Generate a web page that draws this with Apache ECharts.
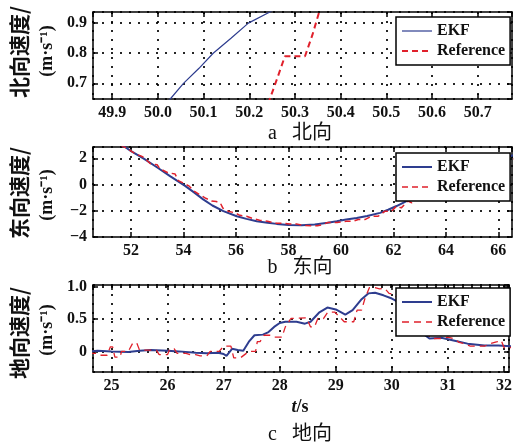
<!DOCTYPE html>
<html lang="zh">
<head>
<meta charset="UTF-8">
<title>EKF 速度对比</title>
<script src="https://cdn.jsdelivr.net/npm/echarts@6/dist/echarts.min.js"></script>
<style>
html, body { margin: 0; padding: 0; background: #fff; }
#chart { width: 515px; height: 448px; }
</style>
</head>
<body>
<div id="chart"></div>
<script>
// panel a: north velocity, x = t (s), y = m/s
const northEkf = [[50.0, 0.60], [50.027, 0.648], [50.056, 0.70], [50.09, 0.75], [50.121, 0.80], [50.16, 0.85], [50.198, 0.90], [50.245, 0.937], [50.27, 0.96]];
const northRef = [[50.235, 0.60], [50.245, 0.648], [50.262, 0.72], [50.278, 0.79], [50.322, 0.79], [50.338, 0.86], [50.353, 0.937], [50.36, 0.97]];

// panel b: east velocity
const eastEkf = [[51.6, 3.05], [51.77, 2.86], [52.0, 2.55], [52.5, 1.95], [53.0, 1.3], [53.5, 0.62], [54.06, -0.1], [54.4, -0.6], [54.75, -1.13],
  [55.1, -1.6], [55.52, -2.03], [56.03, -2.42], [56.4, -2.62], [56.79, -2.8], [57.2, -2.92], [57.55, -3.0], [58.0, -3.08], [58.5, -3.1],
  [59.0, -3.04], [59.5, -2.92], [59.84, -2.8], [60.2, -2.67], [60.6, -2.55], [61.0, -2.4], [61.49, -2.16], [61.8, -1.92], [62.12, -1.64],
  [62.5, -1.27], [62.88, -0.87], [63.5, -0.3], [64.0, 0.2], [64.5, 0.68], [65.0, 1.1], [65.5, 1.5], [66.0, 1.88], [66.6, 2.25]];
const eastRef = [[51.6, 3.0], [51.85, 2.75], [52.08, 2.45], [52.2, 2.3], [52.35, 2.2], [52.5, 2.05], [52.6, 1.85], [52.73, 1.6], [53.0, 1.5],
  [53.1, 1.2], [53.17, 1.05], [53.42, 0.88], [53.55, 0.85], [53.68, 0.8], [53.8, 0.3], [54.0, 0.1], [54.2, -0.1], [54.3, -0.3], [54.4, -0.5],
  [54.6, -0.75], [54.7, -0.85], [54.8, -1.0], [55.07, -1.25], [55.25, -1.3], [55.4, -1.4], [55.5, -1.8], [55.7, -2.03], [55.96, -2.16],
  [56.15, -2.35], [56.4, -2.42], [56.65, -2.6], [56.9, -2.72], [57.2, -2.8], [57.4, -2.9], [57.55, -2.95], [57.8, -2.96], [58.06, -3.0],
  [58.3, -3.0], [58.56, -3.12], [59.1, -3.15], [59.3, -3.05], [59.5, -2.9], [59.85, -2.9], [60.2, -2.8], [60.47, -2.8], [60.66, -2.67],
  [60.91, -2.67], [61.17, -2.42], [61.42, -2.42], [61.68, -2.03], [61.93, -2.03], [62.12, -1.64], [62.3, -1.78], [62.55, -1.26],
  [62.7, -1.39], [63.0, -0.87], [63.14, -1.0], [63.5, -0.55], [64.0, -0.05], [64.5, 0.45], [65.0, 0.9], [65.5, 1.35], [66.0, 1.7],
  [66.36, 2.08], [66.6, 1.96]];

// panel c: down velocity
const downEkf = [[24.6, 0.0], [24.75, 0.01], [25.0, 0.0], [25.3, -0.01], [25.5, 0.01], [25.7, 0.02], [26.0, 0.01], [26.2, 0.0], [26.5, -0.02],
  [26.7, -0.03], [26.9, -0.02], [27.0, -0.04], [27.05, -0.07], [27.15, 0.04], [27.25, 0.02], [27.35, 0.01], [27.45, 0.15], [27.55, 0.25],
  [27.7, 0.26], [27.8, 0.3], [27.9, 0.38], [28.0, 0.44], [28.1, 0.46], [28.3, 0.46], [28.45, 0.43], [28.55, 0.46], [28.7, 0.6],
  [28.85, 0.68], [29.0, 0.65], [29.17, 0.57], [29.3, 0.64], [29.45, 0.8], [29.58, 0.9], [29.7, 0.91], [29.85, 0.87], [30.0, 0.82],
  [30.15, 0.75], [30.3, 0.6], [30.45, 0.4], [30.55, 0.28], [30.67, 0.2], [30.88, 0.21], [31.1, 0.17], [31.35, 0.12], [31.65, 0.09],
  [31.9, 0.09], [32.15, 0.08]];
const downRef = [[24.6, -0.03], [24.73, -0.03], [24.78, -0.06], [24.92, -0.06], [24.98, 0.07], [25.02, 0.07], [25.06, -0.09], [25.15, -0.09],
  [25.18, 0.0], [25.3, 0.0], [25.38, 0.13], [25.45, 0.13], [25.5, 0.02], [25.8, 0.02], [25.85, -0.05], [26.0, -0.05], [26.04, 0.04],
  [26.12, 0.04], [26.17, -0.03], [26.33, -0.03], [26.4, -0.05], [26.5, -0.05], [26.58, -0.07], [26.7, -0.07], [26.76, 0.0], [26.92, 0.0],
  [27.0, 0.08], [27.13, 0.08], [27.18, -0.1], [27.3, -0.1], [27.45, 0.0], [27.57, 0.0], [27.6, 0.15], [27.65, 0.15], [27.72, 0.25],
  [27.84, 0.25], [27.9, 0.22], [28.04, 0.22], [28.1, 0.38], [28.2, 0.51], [28.48, 0.52], [28.55, 0.38], [28.62, 0.38], [28.68, 0.51],
  [28.78, 0.51], [28.86, 0.61], [28.98, 0.61], [29.05, 0.55], [29.15, 0.46], [29.32, 0.46], [29.38, 0.64], [29.46, 0.64], [29.52, 0.82],
  [29.6, 0.99], [29.7, 0.99], [29.78, 0.97], [29.87, 0.98], [29.95, 0.9], [30.05, 0.88], [30.3, 0.6], [30.45, 0.4], [30.52, 0.3],
  [30.6, 0.3], [30.7, 0.2], [30.88, 0.2], [31.0, 0.22], [31.1, 0.2], [31.2, 0.14], [31.3, 0.12], [31.4, 0.08], [31.65, 0.08],
  [31.75, 0.12], [31.88, 0.15], [31.95, 0.17], [32.0, 0.06], [32.15, 0.06]];

// axis ranges and tick steps
const xRanges = [[49.858, 50.775], [50.55, 66.52], [24.67, 32.09]];
const yRanges = [[0.648, 0.937], [-4, 2.86], [-0.32, 1.03]];
const xSteps = [0.1, 2, 1];
const ySteps = [0.1, 2, 0.5];
const yLabels = ['北向速度/', '东向速度/', '地向速度/'];
const captions = ['a   北向', 'b   东向', 'c   地向'];

const BLUE = '#2e3d8f';
const RED = '#e0202b';
const serif = 'Liberation Serif, Times New Roman, serif';
const cjk = 'Liberation Serif, Noto Sans CJK SC, sans-serif';

const grids = [
  { left: 93, right: 3, top: 12, height: 87 },
  { left: 93, right: 3, top: 147, height: 90 },
  { left: 93, right: 3, top: 285, height: 87 }
];

const tickFont = { fontFamily: serif, fontWeight: 'bold', fontSize: 16, color: '#111' };
const frameLine = { onZero: false, lineStyle: { color: '#000', width: 1.5 } };
const innerTick = { inside: true, length: 5, lineStyle: { color: '#000', width: 1.5 } };
const dotted = { show: true, lineStyle: { color: '#000', type: [2, 7], width: 2, opacity: 0.85 } };

const fmtX = [v => v.toFixed(1), v => String(Math.round(v)), v => String(Math.round(v))];
const fmtY = [
  v => v.toFixed(1),
  v => (v < 0 ? '−' : '') + Math.abs(Math.round(v)),
  v => (Math.abs(v) < 1e-9 ? '0' : v.toFixed(1))
];

const xAxis = [];
const yAxis = [];
for (let g = 0; g < 3; g++) {
  const common = { type: 'value', gridIndex: g };
  xAxis.push({
    ...common, position: 'bottom', min: xRanges[g][0], max: xRanges[g][1],
    minInterval: xSteps[g], maxInterval: xSteps[g],
    axisLine: frameLine, axisTick: innerTick, splitLine: dotted,
    axisLabel: { ...tickFont, margin: 6, formatter: fmtX[g], showMinLabel: false, showMaxLabel: false, hideOverlap: false }
  });
  xAxis.push({
    ...common, position: 'top', min: xRanges[g][0], max: xRanges[g][1],
    minInterval: xSteps[g], maxInterval: xSteps[g],
    axisLine: frameLine, axisTick: innerTick, splitLine: { show: false }, axisLabel: { show: false }
  });
  yAxis.push({
    ...common, position: 'left', min: yRanges[g][0], max: yRanges[g][1],
    minInterval: ySteps[g], maxInterval: ySteps[g],
    axisLine: frameLine, axisTick: innerTick, splitLine: dotted,
    axisLabel: { ...tickFont, margin: 6, formatter: fmtY[g], showMinLabel: g === 1, showMaxLabel: false, hideOverlap: false }
  });
  yAxis.push({
    ...common, position: 'right', min: yRanges[g][0], max: yRanges[g][1],
    minInterval: ySteps[g], maxInterval: ySteps[g],
    axisLine: frameLine, axisTick: innerTick, splitLine: { show: false }, axisLabel: { show: false }
  });
}

function lineSeries(name, g, data, color, width, dash) {
  return {
    name: name, type: 'line', xAxisIndex: g * 2, yAxisIndex: g * 2, data: data,
    symbol: 'none', smooth: false, clip: true,
    lineStyle: { color: color, width: width, type: dash || 'solid' },
    itemStyle: { color: color }
  };
}

const series = [
  lineSeries('EKF', 0, northEkf, BLUE, 1.2),
  lineSeries('Reference', 0, northRef, RED, 2, [6, 4]),
  lineSeries('EKF', 1, eastEkf, BLUE, 2),
  lineSeries('Reference', 1, eastRef, RED, 1.5, [6, 4]),
  lineSeries('EKF', 2, downEkf, BLUE, 2),
  lineSeries('Reference', 2, downRef, RED, 1.3, [7, 5])
];

const legendTops = [17, 153, 288];
const legendStyles = [
  [{ color: BLUE, width: 1.2, type: 'solid' }, { color: RED, width: 2, type: [6, 4] }],
  [{ color: BLUE, width: 2, type: 'solid' }, { color: RED, width: 1.3, type: [6, 4] }],
  [{ color: BLUE, width: 2, type: 'solid' }, { color: RED, width: 1.3, type: [7, 5] }]
];
const legend = legendTops.map((top, i) => ({
  left: 396, top: top, orient: 'vertical', selectedMode: false,
  padding: [6, 5, 6, 5], itemGap: 4, itemWidth: 30, itemHeight: 14,
  backgroundColor: '#fff', borderColor: '#000', borderWidth: 1.5, borderRadius: 0,
  textStyle: { fontFamily: serif, fontSize: 16, fontWeight: 'bold', color: '#111' },
  data: [
    { name: 'EKF', lineStyle: legendStyles[i][0], itemStyle: { opacity: 0 } },
    { name: 'Reference', lineStyle: legendStyles[i][1], itemStyle: { opacity: 0 } }
  ]
}));

const yLabelCenters = [52, 193, 333];
const unitCenters = [51, 195, 330];
const captionY = [134, 268, 435];
const graphic = [];
for (let g = 0; g < 3; g++) {
  graphic.push({
    type: 'text', x: 19, y: yLabelCenters[g], rotation: Math.PI / 2,
    style: { text: yLabels[g], font: 'bold 21px Noto Sans CJK SC, sans-serif', fill: '#111', align: 'center', verticalAlign: 'middle' }
  });
  graphic.push({
    type: 'text', x: 47, y: unitCenters[g], rotation: Math.PI / 2,
    style: { text: '(m·s⁻¹)', font: 'bold 18px ' + serif, fill: '#111', align: 'center', verticalAlign: 'middle' }
  });
  graphic.push({
    type: 'text', x: 300, y: captionY[g],
    style: { text: captions[g], font: '20px ' + cjk, fill: '#111', align: 'center', verticalAlign: 'middle' }
  });
}
graphic.push({
  type: 'text', x: 300, y: 407,
  style: {
    text: '{i|t}/s', font: 'bold 18px ' + serif, fill: '#111', align: 'center', verticalAlign: 'middle',
    rich: { i: { fontStyle: 'italic', fontWeight: 'bold', fontSize: 18, fontFamily: serif } }
  }
});

const chart = echarts.init(document.getElementById('chart'));
chart.setOption({
  animation: false,
  backgroundColor: '#fff',
  grid: grids,
  xAxis: xAxis,
  yAxis: yAxis,
  legend: legend,
  series: series,
  graphic: graphic
});
</script>
</body>
</html>
